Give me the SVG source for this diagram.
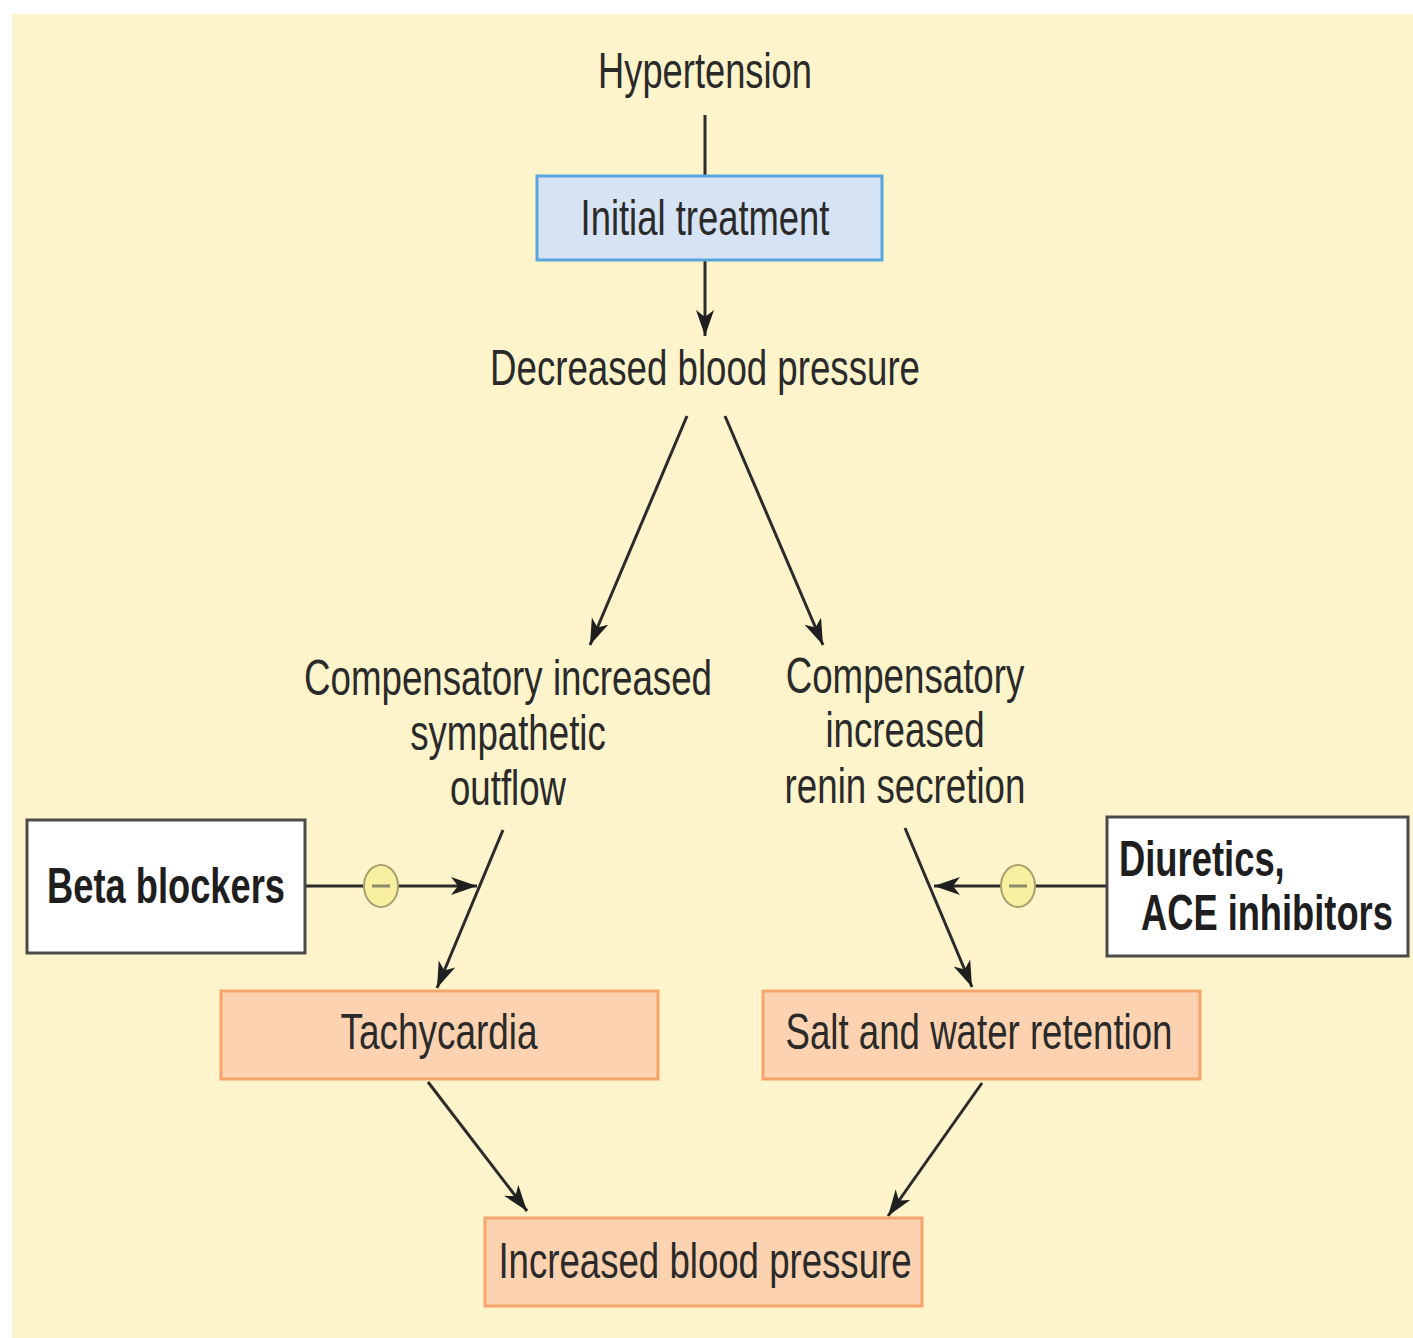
<svg xmlns="http://www.w3.org/2000/svg" width="1413" height="1338" viewBox="0 0 1413 1338">
  <style>
    .t { font-family: "Liberation Sans", Arial, sans-serif; font-size: 50px; fill: #2a2a2a; }
    .c { text-anchor: middle; }
    .b { font-weight: bold; fill: #1e1e1e; }
    .blue { fill: #d5e3f4; stroke: #5aa6dc; stroke-width: 3; }
    .peach { fill: #fdd2b0; stroke: #f5a46c; stroke-width: 3; }
    .drug { fill: #ffffff; stroke: #4a4a4a; stroke-width: 3; }
    .ln { stroke: #2b2b2b; stroke-width: 3; fill: none; }
    .arr { marker-end: url(#head); }
    .inh { fill: #f8f0a0; stroke: #a8a070; stroke-width: 2; }
    .minus { stroke: #8a8a6a; stroke-width: 3; }
  </style>
  <defs>
    <marker id="head" markerUnits="userSpaceOnUse" markerWidth="30" markerHeight="20" refX="26" refY="9" orient="auto">
      <path d="M0,0 L26,9 L0,18 L7,9 Z" fill="#1f1f1f"/>
    </marker>
  </defs>

  <!-- page background -->
  <rect x="0" y="0" width="1413" height="1338" fill="#ffffff"/>
  <rect x="12" y="14" width="1401" height="1324" fill="#fdf4cc"/>

  <!-- connectors -->
  <g id="connectors">
    <line class="ln" x1="705" y1="115" x2="705" y2="175"/>
    <line class="ln arr" x1="705" y1="260" x2="705" y2="336"/>
    <line class="ln arr" x1="687" y1="416" x2="590" y2="645"/>
    <line class="ln arr" x1="725" y1="416" x2="823" y2="645"/>
    <line class="ln arr" x1="503" y1="830" x2="437" y2="988"/>
    <line class="ln arr" x1="905" y1="828" x2="972" y2="987"/>
    <line class="ln arr" x1="305" y1="886" x2="477" y2="886"/>
    <line class="ln arr" x1="1107" y1="886" x2="934" y2="886"/>
    <line class="ln arr" x1="428" y1="1082" x2="527" y2="1211"/>
    <line class="ln arr" x1="982" y1="1083" x2="888" y2="1216"/>
    <!-- inhibition markers -->
    <g id="inhibit-left">
      <ellipse class="inh" cx="381" cy="886" rx="17" ry="21"/>
      <line class="minus" x1="372" y1="886" x2="390" y2="886"/>
    </g>
    <g id="inhibit-right">
      <ellipse class="inh" cx="1018" cy="886" rx="17" ry="21"/>
      <line class="minus" x1="1009" y1="886" x2="1027" y2="886"/>
    </g>
  </g>

  <!-- labels use a horizontally condensed face: scale(0.73, 1) -->
  <g id="hypertension">
    <text class="t c" transform="translate(705,88) scale(0.73,1)" textLength="293" lengthAdjust="spacingAndGlyphs">Hypertension</text>
  </g>

  <g id="initial-treatment">
    <rect class="blue" x="537" y="176" width="345" height="84"/>
    <text class="t c" transform="translate(705,235) scale(0.73,1)" textLength="341" lengthAdjust="spacingAndGlyphs">Initial treatment</text>
  </g>

  <g id="decreased-bp">
    <text class="t c" transform="translate(705,385) scale(0.73,1)" textLength="589" lengthAdjust="spacingAndGlyphs">Decreased blood pressure</text>
  </g>

  <g id="sympathetic">
    <text class="t c" transform="translate(508,695) scale(0.73,1)" textLength="559" lengthAdjust="spacingAndGlyphs">Compensatory increased</text>
    <text class="t c" transform="translate(508,750) scale(0.73,1)" textLength="268" lengthAdjust="spacingAndGlyphs">sympathetic</text>
    <text class="t c" transform="translate(508,805) scale(0.73,1)" textLength="159" lengthAdjust="spacingAndGlyphs">outflow</text>
  </g>

  <g id="renin">
    <text class="t c" transform="translate(905,693) scale(0.73,1)" textLength="327" lengthAdjust="spacingAndGlyphs">Compensatory</text>
    <text class="t c" transform="translate(905,747) scale(0.73,1)" textLength="218" lengthAdjust="spacingAndGlyphs">increased</text>
    <text class="t c" transform="translate(905,803) scale(0.73,1)" textLength="330" lengthAdjust="spacingAndGlyphs">renin secretion</text>
  </g>

  <g id="beta-blockers">
    <rect class="drug" x="27" y="820" width="278" height="133"/>
    <text class="t b" transform="translate(47,903) scale(0.73,1)" textLength="326" lengthAdjust="spacingAndGlyphs">Beta blockers</text>
  </g>

  <g id="diuretics">
    <rect class="drug" x="1107" y="817" width="301" height="139"/>
    <text class="t b" transform="translate(1119,876) scale(0.73,1)" textLength="227" lengthAdjust="spacingAndGlyphs">Diuretics,</text>
    <text class="t b" transform="translate(1141,930) scale(0.73,1)" textLength="345" lengthAdjust="spacingAndGlyphs">ACE inhibitors</text>
  </g>

  <g id="tachycardia">
    <rect class="peach" x="221" y="991" width="437" height="88"/>
    <text class="t c" transform="translate(439,1049) scale(0.73,1)" textLength="270" lengthAdjust="spacingAndGlyphs">Tachycardia</text>
  </g>

  <g id="salt-water">
    <rect class="peach" x="763" y="991" width="437" height="88"/>
    <text class="t c" transform="translate(979,1049) scale(0.73,1)" textLength="530" lengthAdjust="spacingAndGlyphs">Salt and water retention</text>
  </g>

  <g id="increased-bp">
    <rect class="peach" x="485" y="1218" width="437" height="88"/>
    <text class="t c" transform="translate(705,1278) scale(0.73,1)" textLength="566" lengthAdjust="spacingAndGlyphs">Increased blood pressure</text>
  </g>
</svg>
